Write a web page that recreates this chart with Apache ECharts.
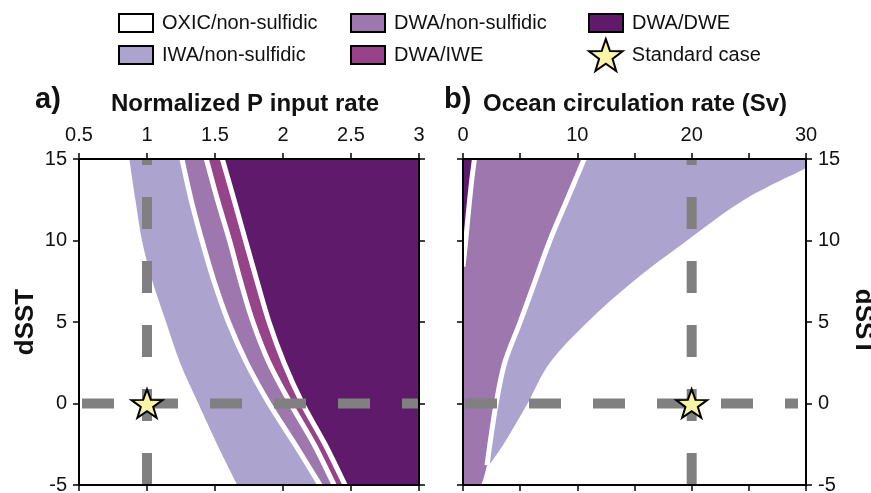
<!DOCTYPE html>
<html>
<head>
<meta charset="utf-8">
<script src="https://cdn.jsdelivr.net/npm/echarts@6/dist/echarts.min.js"></script>
<style>
  html, body { margin: 0; padding: 0; background: #fff; }
  #chart { width: 871px; height: 493px; }
</style>
</head>
<body>
<div id="chart"></div>
<script>
// ---- data ----
// panel a: dSST levels and the P input rate of each regime boundary
var aDsst = [15, 12.5, 10, 7.5, 5, 2.5, 0, -2.5, -5];
var aOxicIwa = [0.870, 0.915, 0.963, 1.040, 1.140, 1.243, 1.377, 1.515, 1.664];
var aIwaDwa = [1.257, 1.324, 1.404, 1.493, 1.599, 1.732, 1.897, 2.088, 2.272];
var aDwaIwe = [1.436, 1.518, 1.607, 1.688, 1.779, 1.897, 2.055, 2.228, 2.376];
var aIweDwe = [1.554, 1.640, 1.724, 1.809, 1.897, 2.007, 2.143, 2.309, 2.456];

// panel b: ocean circulation rate (Sv) of each boundary
var bDsst = [15, 12.5, 10, 7.5, 5, 2.5, 0, -2.5, -3.8];
var bDwaIwa = [10.6, 9.1, 7.6, 6.3, 5.0, 3.65, 2.9, 2.35, 2.1];
var bDsstOxic = [14.43, 12.5, 10, 7.5, 5, 2.5, 0, -2.5, -3.85];
var bIwaOxic = [30, 24.6, 19.6, 14.9, 10.9, 7.6, 5.64, 3.55, 2.2];
var bDsstTail = [-3.8, -4.5, -5];
var bDwaTail = [2.1, 1.84, 1.6];
var bDsstDwe = [15, 13.5, 11.5, 10, 8.4];
var bDwaDwe = [1.0, 0.73, 0.44, 0.24, 0.0];

// standard case
var stdA = [1, 0];
var stdB = [20, 0];

var xRangeA = [0.5, 3];
var xRangeB = [0, 30];
var yRange = [-5, 15];

var colors = {
    oxic: '#ffffff',
    iwa: '#ada3cf',
    dwa: '#9d77ae',
    iwe: '#96438a',
    dwe: '#5f1a6b',
    star: '#f9f5a8'
};
var names = ['OXIC/non-sulfidic', 'IWA/non-sulfidic', 'DWA/non-sulfidic', 'DWA/IWE', 'DWA/DWE', 'Standard case'];
var fontFam = '"Liberation Sans", Arial, Helvetica, sans-serif';
var starPath = 'path://M0,-50 L11.76,-16.18 L47.55,-15.45 L19.02,6.18 L29.39,40.45 L0,20 L-29.39,40.45 L-19.02,6.18 L-47.55,-15.45 L-11.76,-16.18 Z';

function zip(xs, ys) {
    var out = [];
    for (var i = 0; i < xs.length; i++) out.push([xs[i], ys[i]]);
    return out;
}
function rev(a) { return a.slice().reverse(); }
function S(pts) { return { pts: pts, smooth: true }; }
function L(pts) { return { pts: pts, smooth: false }; }

var aCurve1 = zip(aOxicIwa, aDsst), aCurve2 = zip(aIwaDwa, aDsst),
    aCurve3 = zip(aDwaIwe, aDsst), aCurve4 = zip(aIweDwe, aDsst);
var bMid = zip(bDwaIwa, bDsst), bOx = zip(bIwaOxic, bDsstOxic),
    bTail = zip(bDwaTail, bDsstTail), bDwe = zip(bDwaDwe, bDsstDwe);

function corners(r) {
    return [[r[0], yRange[0]], [r[1], yRange[0]], [r[1], yRange[1]], [r[0], yRange[1]]];
}

// region outlines: smooth parts follow a boundary curve, straight parts follow the frame
var shapesA = {
    oxic: [L(corners(xRangeA))],
    iwa: [S(aCurve1), S(rev(aCurve2))],
    dwa: [S(aCurve2), S(rev(aCurve3))],
    iwe: [S(aCurve3), S(rev(aCurve4))],
    dwe: [S(aCurve4), L([[xRangeA[1], yRange[0]], [xRangeA[1], yRange[1]]])]
};
var shapesB = {
    oxic: [L(corners(xRangeB))],
    dwa: [L([[xRangeB[0], yRange[1]]]), S(bMid), S(bTail), L([[xRangeB[0], yRange[0]]])],
    iwa: [L([bMid[0], [xRangeB[1], yRange[1]]]), S(bOx), S(rev(bMid))],
    dwe: [L([[xRangeB[0], yRange[1]]]), S(bDwe)]
};

// smooth path through pixel points (Catmull-Rom as cubic Bezier)
function pathFrom(api, parts, close) {
    var d = '';
    var started = false;
    parts.forEach(function (part) {
        var p = part.pts.map(function (v) { return api.coord(v); });
        d += (started ? ' L' : 'M') + p[0][0] + ',' + p[0][1];
        started = true;
        for (var i = 0; i < p.length - 1; i++) {
            if (!part.smooth) {
                d += ' L' + p[i + 1][0] + ',' + p[i + 1][1];
                continue;
            }
            var p0 = p[i - 1] || p[i], p1 = p[i], p2 = p[i + 1], p3 = p[i + 2] || p[i + 1];
            var c1x = p1[0] + (p2[0] - p0[0]) / 6, c1y = p1[1] + (p2[1] - p0[1]) / 6;
            var c2x = p2[0] - (p3[0] - p1[0]) / 6, c2y = p2[1] - (p3[1] - p1[1]) / 6;
            d += ' C' + c1x + ',' + c1y + ' ' + c2x + ',' + c2y + ' ' + p2[0] + ',' + p2[1];
        }
    });
    if (close) d += ' Z';
    return d;
}

function region(name, g, parts, color) {
    return {
        type: 'custom', name: name, xAxisIndex: g * 2, yAxisIndex: g * 2,
        clip: true, silent: true, z: 1, data: [0],
        itemStyle: { color: color },
        renderItem: function (params, api) {
            return {
                type: 'path',
                shape: { pathData: pathFrom(api, parts, true) },
                style: { fill: color, stroke: null }
            };
        }
    };
}
function whiteLine(g, pts) {
    return {
        type: 'custom', xAxisIndex: g * 2, yAxisIndex: g * 2,
        clip: true, silent: true, z: 3, data: [0],
        renderItem: function (params, api) {
            return {
                type: 'path',
                shape: { pathData: pathFrom(api, [S(pts)], false) },
                style: { fill: null, stroke: '#fff', lineWidth: 5 }
            };
        }
    };
}
function dashLine(g, pts, offset) {
    return {
        type: 'line', xAxisIndex: g * 2, yAxisIndex: g * 2, data: pts,
        symbol: 'none', silent: true, z: 4,
        lineStyle: { color: '#808080', width: 10, type: [32, 32], dashOffset: offset, cap: 'butt' }
    };
}
function starSeries(g, pt) {
    return {
        type: 'scatter', name: names[5], xAxisIndex: g * 2, yAxisIndex: g * 2,
        data: [pt], symbol: starPath, symbolSize: [31, 30], symbolKeepAspect: true,
        silent: true, z: 6,
        itemStyle: { color: colors.star, borderColor: '#000', borderWidth: 2, opacity: 1 }
    };
}

var labelStyle = { fontSize: 20, color: '#111', fontFamily: fontFam };
function xAx(g, pos, range, interval, showLabel, fmt) {
    return {
        gridIndex: g, type: 'value', position: pos, min: range[0], max: range[1], interval: interval, z: 10,
        axisLine: { onZero: false, lineStyle: { color: '#000', width: 2 } },
        axisTick: { show: true, inside: false, length: 6, lineStyle: { color: '#000', width: 1.5 } },
        axisLabel: Object.assign({ show: showLabel, margin: 14, formatter: fmt }, labelStyle),
        splitLine: { show: false }
    };
}
function yAx(g, pos, showLabel, name, rot, gap) {
    return {
        gridIndex: g, type: 'value', position: pos, min: yRange[0], max: yRange[1], interval: 5, z: 10,
        name: name, nameLocation: 'middle', nameRotate: rot, nameGap: gap,
        nameTextStyle: { fontSize: 26, fontWeight: 'bold', color: '#111', fontFamily: fontFam },
        axisLine: { onZero: false, lineStyle: { color: '#000', width: 2 } },
        axisTick: { show: true, inside: false, length: 6, lineStyle: { color: '#000', width: 1.5 } },
        axisLabel: Object.assign({ show: showLabel, margin: 12 }, labelStyle),
        splitLine: { show: false }
    };
}
function box(name, color) {
    return { name: name, icon: 'rect', itemStyle: { color: color, borderColor: '#000', borderWidth: 2 } };
}
function legendBlock(left, top, data, w, h) {
    return {
        left: left, top: top, orient: 'vertical', padding: 0, itemGap: 12,
        itemWidth: w || 34, itemHeight: h || 18, selectedMode: false,
        textStyle: { fontSize: 20, color: '#111', fontFamily: fontFam, padding: [0, 0, 0, 4] },
        data: data
    };
}

var myChart = echarts.init(document.getElementById('chart'), null, { renderer: 'canvas' });
var option = {
    backgroundColor: '#fff',
    animation: false,
    title: [
        { text: 'a)', left: 35, top: 85, padding: 0, textStyle: { fontSize: 29, fontWeight: 'bold', color: '#111', fontFamily: fontFam } },
        { text: 'Normalized P input rate', left: 111, top: 92, padding: 0, textStyle: { fontSize: 24, fontWeight: 'bold', color: '#111', fontFamily: fontFam } },
        { text: 'b)', left: 444, top: 85, padding: 0, textStyle: { fontSize: 29, fontWeight: 'bold', color: '#111', fontFamily: fontFam } },
        { text: 'Ocean circulation rate (Sv)', left: 483, top: 92, padding: 0, textStyle: { fontSize: 24, fontWeight: 'bold', color: '#111', fontFamily: fontFam } }
    ],
    legend: [
        legendBlock(118, 13, [box(names[0], colors.oxic), box(names[1], colors.iwa)]),
        legendBlock(350, 13, [box(names[2], colors.dwa), box(names[3], colors.iwe)]),
        legendBlock(588, 13, [box(names[4], colors.dwe)]),
        legendBlock(588, 38, [{ name: names[5], icon: starPath, itemStyle: { color: colors.star, borderColor: '#000', borderWidth: 2 } }], 34, 32)
    ],
    grid: [
        { left: 79, top: 159, width: 340, height: 326, outerBoundsMode: 'none' },
        { left: 463, top: 159, width: 343, height: 326, outerBoundsMode: 'none' }
    ],
    xAxis: [
        xAx(0, 'top', xRangeA, 0.5, true),
        xAx(0, 'bottom', xRangeA, 0.5, false),
        xAx(1, 'top', xRangeB, 5, true, function (v) { return v % 10 === 0 ? String(v) : ''; }),
        xAx(1, 'bottom', xRangeB, 5, false)
    ],
    yAxis: [
        yAx(0, 'left', true, 'dSST', 90, 40),
        yAx(0, 'right', false, '', 0, 0),
        yAx(1, 'left', false, '', 0, 0),
        yAx(1, 'right', true, 'dSST', -90, 44)
    ],
    series: [
        region(names[0], 0, shapesA.oxic, colors.oxic),
        region(names[1], 0, shapesA.iwa, colors.iwa),
        region(names[2], 0, shapesA.dwa, colors.dwa),
        region(names[3], 0, shapesA.iwe, colors.iwe),
        region(names[4], 0, shapesA.dwe, colors.dwe),
        whiteLine(0, aCurve2), whiteLine(0, aCurve3), whiteLine(0, aCurve4),
        dashLine(0, [[stdA[0], yRange[0]], [stdA[0], yRange[1]]], 0),
        dashLine(0, [[xRangeA[0], stdA[1]], [xRangeA[1], stdA[1]]], 61),
        starSeries(0, stdA),

        region(names[0], 1, shapesB.oxic, colors.oxic),
        region(names[2], 1, shapesB.dwa, colors.dwa),
        region(names[1], 1, shapesB.iwa, colors.iwa),
        region(names[4], 1, shapesB.dwe, colors.dwe),
        whiteLine(1, bMid), whiteLine(1, bDwe),
        dashLine(1, [[stdB[0], yRange[0]], [stdB[0], yRange[1]]], 0),
        dashLine(1, [[xRangeB[0], stdB[1]], [29.3, stdB[1]]], 62),
        starSeries(1, stdB)
    ]
};
myChart.setOption(option);
</script>
</body>
</html>
